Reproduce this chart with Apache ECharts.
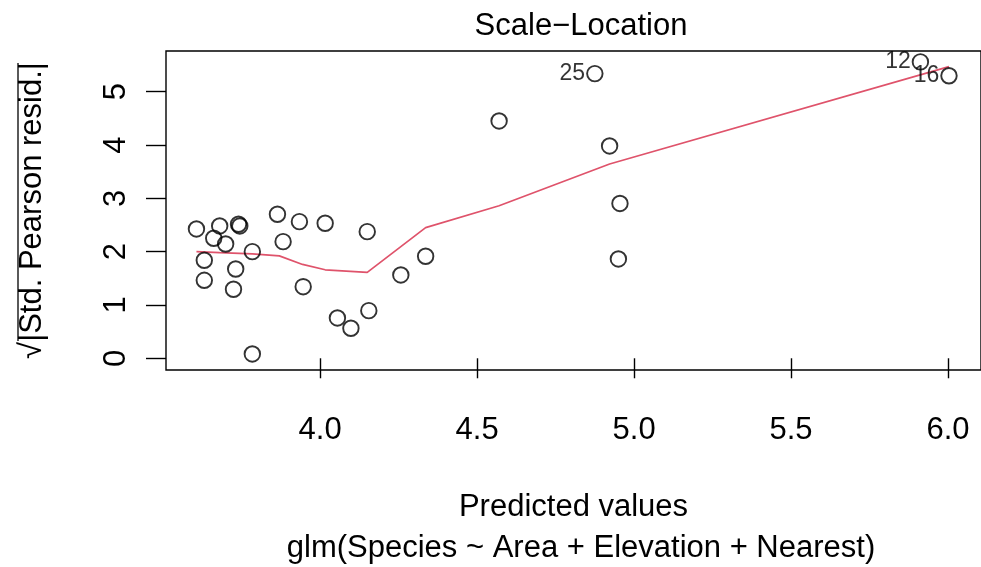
<!DOCTYPE html>
<html>
<head>
<meta charset="utf-8">
<script src="https://cdn.jsdelivr.net/npm/echarts@6/dist/echarts.min.js"></script>
<style>html,body{margin:0;padding:0;background:#fff}#c{width:981px;height:567px}</style>
</head>
<body>
<div id="c"></div>
<script>
// ---- data ----
const predicted = [3.606,3.680,3.661,3.699,3.740,3.744,3.631,3.631,3.731,3.724,3.784,3.784,3.864,3.882,3.934,4.016,4.150,3.946,4.055,4.098,4.155,4.257,4.336,4.570,4.875,4.922,4.955,4.950,5.912,6.003];
const sqrtResid = [2.426,2.482,2.251,2.144,2.514,2.482,1.839,1.463,1.675,1.295,2.000,0.081,2.702,2.188,2.563,2.533,2.375,1.343,0.756,0.563,0.893,1.563,1.914,4.452,5.340,3.983,2.904,1.863,5.560,5.300];
const pointIds = ['','','','','','','','','','','','','','','','','','','','','','','','','25','','','','12','16'];
const smoothX = [3.606,3.680,3.784,3.870,3.944,4.016,4.150,4.336,4.570,4.922,6.003];
const smoothY = [2.00,1.98,1.96,1.92,1.76,1.66,1.61,2.45,2.86,3.645,5.47];
const xTicks = [4.0,4.5,5.0,5.5,6.0];
const yTicks = [0,1,2,3,4,5];

const FONT = 'Liberation Sans';
const FS = 31;
const chart = echarts.init(document.getElementById('c'), null, {renderer:'canvas'});
const scatterData = predicted.map((x,i)=>({
  value:[x, sqrtResid[i]],
  label: pointIds[i] ? {show:true, formatter: pointIds[i]} : {show:false}
}));
chart.setOption({
  animation:false,
  backgroundColor:'#fff',
  textStyle:{fontFamily:FONT},
  title:[
    {text:'Scale\u2212Location', left:576, top:6, textAlign:'center',
     textStyle:{fontFamily:FONT, fontSize:FS, fontWeight:'normal', color:'#000'}},
    {text:'glm(Species ~ Area + Elevation + Nearest)', left:576, top:528, textAlign:'center',
     textStyle:{fontFamily:FONT, fontSize:FS, fontWeight:'normal', color:'#000'}}
  ],
  grid:{left:166, top:51, width:820, height:319, show:true, borderColor:'#000', borderWidth:1.4, backgroundColor:'transparent'},
  xAxis:{
    type:'value', min:3.509, max:6.105,
    name:'Predicted values', nameLocation:'middle', nameGap:122,
    nameTextStyle:{fontFamily:FONT, fontSize:FS, color:'#000'},
    axisLine:{show:false},
    splitLine:{show:false},
    axisTick:{show:true, length:20, lineStyle:{color:'#000', width:1.4}, customValues:xTicks},
    axisLabel:{fontFamily:FONT, fontSize:FS, color:'#000', margin:45, customValues:xTicks,
      formatter:v=>v.toFixed(1)}
  },
  yAxis:{
    type:'value', min:-0.22, max:5.764,
    name:'\u221A|Std. Pearson resid.|', nameLocation:'middle', nameGap:118, nameRotate:90,
    nameTextStyle:{fontFamily:FONT, fontSize:FS, color:'#000'},
    axisLine:{show:false},
    splitLine:{show:false},
    axisTick:{show:true, length:20, lineStyle:{color:'#000', width:1.4}, customValues:yTicks},
    axisLabel:{fontFamily:FONT, fontSize:FS, color:'#000', margin:34, rotate:90, customValues:yTicks,
      formatter:v=>String(v)}
  },
  graphic:[
    {type:'line', shape:{x1:18, y1:63, x2:18, y2:341}, style:{stroke:'#000', lineWidth:1.3}, silent:true}
  ],
  series:[
    {type:'scatter', data:scatterData, symbol:'circle', symbolSize:15.5,
     itemStyle:{color:'rgba(0,0,0,0)', borderColor:'#000', borderWidth:1.9},
     label:{position:'left', distance:1, fontFamily:FONT, fontSize:23, color:'#000'},
     emphasis:{disabled:true}, z:3},
    {type:'line', data:smoothX.map((x,i)=>[x, smoothY[i]]), symbol:'none', showSymbol:false,
     lineStyle:{color:'#DF536B', width:1.7}, z:2}
  ]
});
</script>
</body>
</html>
